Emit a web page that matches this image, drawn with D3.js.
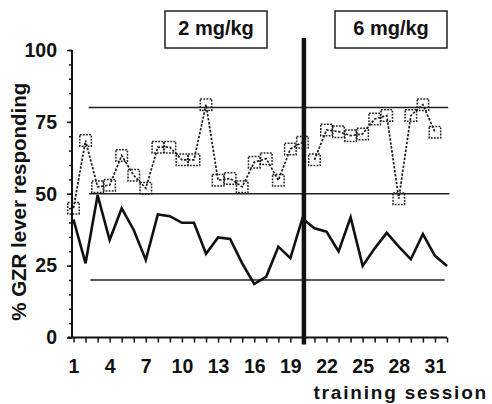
<!DOCTYPE html>
<html>
<head>
<meta charset="utf-8">
<script src="https://cdn.jsdelivr.net/npm/d3@7"></script>
<style>
  body { margin: 0; background: #fff; }
  svg text { font-family: "Liberation Sans", Arial, sans-serif; font-weight: bold; fill: #111; }
</style>
</head>
<body>
<div id="chart"></div>
<script>
(function () {
  // % GZR lever responding, sessions 1-20 (2 mg/kg) and 21-31 (6 mg/kg)
  const gzrPhase1 = [45, 68.5, 52.4, 53, 63.3, 56.4, 51.9, 66.2, 66.2, 61.8,
    61.8, 81, 54.7, 55.3, 52.4, 61, 62.2, 54.7, 65.6, 67.9];
  const gzrPhase2 = [61.8, 72.2, 71.6, 70.2, 70.8, 76, 77.2, 48.3, 77.2, 81, 71.4];
  // solid line, sessions 1-32
  const lowerSeries = [41, 25.8, 49.5, 33.9, 44.9, 37.4, 27, 42.8, 42.2, 39.9,
    39.9, 29.1, 34.8, 34.3, 25.8, 18.6, 21.2, 31.6, 27.6, 41.4,
    38, 36.8, 29.9, 41.8, 24.9, 31, 36.4, 31.6, 27.2, 36, 28.4, 24.9];
  // horizontal criterion lines: value, start session, end session
  const refLines = [
    { value: 80, from: 2.25, to: 32.1 },
    { value: 50, from: 2.3, to: 32.2 },
    { value: 20, from: 2.4, to: 31.8 },
  ];
  const doseLabels = ["2 mg/kg", "6 mg/kg"];
  const doseChangeSession = 20;
  const xTickLabels = [1, 4, 7, 10, 13, 16, 19, 22, 25, 28, 31];
  const yTickLabels = [0, 25, 50, 75, 100];

  const W = 492, H = 404;
  const axisX = 72;

  const svg = d3.select("#chart").append("svg")
    .attr("width", W).attr("height", H);

  const x = d3.scaleLinear().domain([1, 32]).range([73.5, 447]);
  const y = d3.scaleLinear().domain([0, 100]).range([337.5, 50]);

  // y axis: minor ticks every 5, labelled major ticks every 25
  svg.append("g")
    .attr("transform", `translate(${axisX},0)`)
    .call(d3.axisLeft(y).tickValues(d3.range(0, 101, 5)).tickSize(3).tickFormat(""))
    .call((g) => g.select(".domain").remove())
    .call((g) => g.selectAll("line").attr("stroke", "#111").attr("stroke-width", 1.5));

  svg.append("g")
    .attr("transform", `translate(${axisX},0)`)
    .call(d3.axisLeft(y).tickValues(yTickLabels).tickSize(5).tickPadding(10))
    .call((g) => g.select(".domain").remove())
    .call((g) => g.selectAll("line").attr("stroke", "#111").attr("stroke-width", 1.5))
    .call((g) => g.selectAll("text")
      .attr("font-size", 19.5).attr("font-family", null).attr("fill", "#111"));

  svg.append("line")
    .attr("x1", axisX).attr("x2", axisX)
    .attr("y1", y(100)).attr("y2", y(0))
    .attr("stroke", "#111").attr("stroke-width", 2);

  // x axis: a tick for every session
  svg.append("g")
    .attr("transform", `translate(0,${y(0)})`)
    .call(d3.axisBottom(x).tickValues(d3.range(1, 33)).tickSize(5).tickPadding(17)
      .tickFormat((d) => (xTickLabels.includes(d) ? d : "")))
    .call((g) => g.select(".domain").remove())
    .call((g) => g.selectAll("line").attr("stroke", "#111").attr("stroke-width", 1.5))
    .call((g) => g.selectAll("text")
      .attr("font-size", 19.5).attr("font-family", null).attr("fill", "#111"));

  svg.append("line")
    .attr("x1", axisX - 4).attr("x2", x(32))
    .attr("y1", y(0)).attr("y2", y(0))
    .attr("stroke", "#111").attr("stroke-width", 2);

  // axis titles
  svg.append("text")
    .attr("transform", `translate(26,${(y(0) + y(100)) / 2 + 8}) rotate(-90)`)
    .attr("text-anchor", "middle")
    .attr("font-size", 20.5)
    .text("% GZR lever responding");

  svg.append("text")
    .attr("x", 488).attr("y", 399)
    .attr("text-anchor", "end")
    .attr("font-size", 19)
    .attr("letter-spacing", 1.8)
    .text("training session");

  // criterion lines
  svg.selectAll("line.ref")
    .data(refLines)
    .join("line")
    .attr("class", "ref")
    .attr("x1", (d) => x(d.from)).attr("x2", (d) => x(d.to))
    .attr("y1", (d) => y(d.value)).attr("y2", (d) => y(d.value))
    .attr("stroke", "#222").attr("stroke-width", 1.6);

  // dose change marker
  svg.append("line")
    .attr("x1", x(doseChangeSession) + 1.5).attr("x2", x(doseChangeSession) + 1.5)
    .attr("y1", 38).attr("y2", y(0) + 7)
    .attr("stroke", "#111").attr("stroke-width", 4.5);

  // dose boxes
  const boxes = [
    { label: doseLabels[0], x0: 165, x1: 267 },
    { label: doseLabels[1], x0: 335, x1: 447 },
  ];
  const box = svg.selectAll("g.dose").data(boxes).join("g").attr("class", "dose");
  box.append("rect")
    .attr("x", (d) => d.x0).attr("y", 11)
    .attr("width", (d) => d.x1 - d.x0).attr("height", 37)
    .attr("fill", "#fff").attr("stroke", "#222").attr("stroke-width", 1.5);
  box.append("text")
    .attr("x", (d) => (d.x0 + d.x1) / 2).attr("y", 35)
    .attr("text-anchor", "middle")
    .attr("font-size", 20)
    .text((d) => d.label);

  // solid series
  const line = d3.line().x((d) => x(d.s)).y((d) => y(d.v));
  svg.append("path")
    .datum(lowerSeries.map((v, i) => ({ s: i + 1, v })))
    .attr("d", line)
    .attr("fill", "none")
    .attr("stroke", "#111")
    .attr("stroke-width", 2.6)
    .attr("stroke-linejoin", "miter");

  // dotted series with open squares, broken at the dose change
  const phases = [
    gzrPhase1.map((v, i) => ({ s: i + 1, v })),
    gzrPhase2.map((v, i) => ({ s: i + 1 + gzrPhase1.length, v })),
  ];
  svg.selectAll("path.gzr")
    .data(phases)
    .join("path")
    .attr("class", "gzr")
    .attr("d", line)
    .attr("fill", "none")
    .attr("stroke", "#1a1a1a")
    .attr("stroke-width", 1.7)
    .attr("stroke-dasharray", "2.4,1.6");

  const sq = 11.5;
  svg.selectAll("rect.pt")
    .data(phases.flat())
    .join("rect")
    .attr("class", "pt")
    .attr("x", (d) => x(d.s) - sq / 2)
    .attr("y", (d) => y(d.v) - sq / 2)
    .attr("width", sq).attr("height", sq)
    .attr("fill", "none")
    .attr("stroke", "#222")
    .attr("stroke-width", 1.5)
    .attr("stroke-dasharray", "1.8,1.3");
})();
</script>
</body>
</html>
